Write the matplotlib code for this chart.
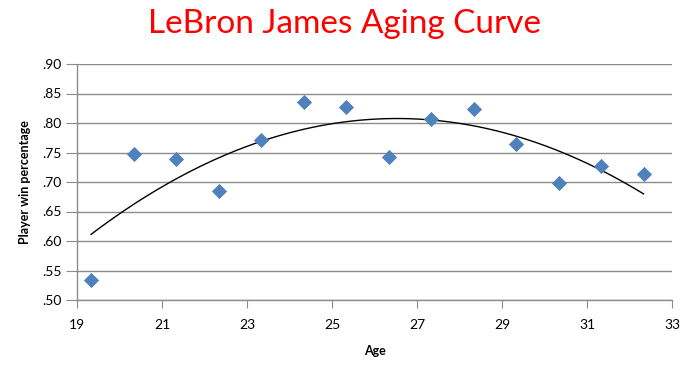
import numpy as np
import matplotlib
matplotlib.use("Agg")
import matplotlib.pyplot as plt

ages = [19.33, 20.33, 21.33, 22.33, 23.33, 24.33, 25.33, 26.33, 27.33, 28.33, 29.33, 30.33, 31.33, 32.33]
win_pct = [0.534, 0.747, 0.739, 0.685, 0.772, 0.836, 0.827, 0.743, 0.807, 0.824, 0.764, 0.699, 0.727, 0.714]
x_ticks = [19, 21, 23, 25, 27, 29, 31, 33]
y_ticks = [0.50, 0.55, 0.60, 0.65, 0.70, 0.75, 0.80, 0.85, 0.90]
y_labels = [".50", ".55", ".60", ".65", ".70", ".75", ".80", ".85", ".90"]

plt.rcParams['font.family'] = ['Lato', 'DejaVu Sans']

fig = plt.figure(figsize=(6.88, 3.68), dpi=100)
ax = fig.add_axes([77/688, 1 - 300/368, (672-77)/688, (300-64)/368])

# quadratic trendline
coef = np.polyfit(ages, win_pct, 2)
xs = np.linspace(min(ages), max(ages), 200)
ax.plot(xs, np.polyval(coef, xs), color='black', lw=1.0, zorder=3)

ax.scatter(ages, win_pct, marker='D', s=60, color='#4F81BD', zorder=4, linewidths=0)

ax.set_xlim(19, 33)
ax.set_ylim(0.50, 0.90)
ax.set_xticks(x_ticks)
ax.set_yticks(y_ticks)
ax.set_yticklabels(y_labels)
ax.grid(axis='y', color='#8c8c8c', lw=1.0)
ax.set_axisbelow(True)
for s in ['top', 'right']:
    ax.spines[s].set_visible(False)
for s in ['left', 'bottom']:
    ax.spines[s].set_color('#8c8c8c')
    ax.spines[s].set_linewidth(1.0)
ax.tick_params(axis='x', direction='out', length=6, color='#8c8c8c', labelsize=10, pad=8)
ax.tick_params(axis='y', direction='out', length=8, color='#8c8c8c', labelsize=10, pad=3)

ax.set_xlabel("Age", fontsize=9, fontweight='bold', labelpad=10)
ax.set_ylabel("Player win percentage", fontsize=9, fontweight='bold', labelpad=8)

fig.text(0.5, 1 - 24/368, "LeBron James Aging Curve", color='#FF0000', fontsize=24,
         ha='center', va='center')

fig.savefig("out.png", dpi=100, facecolor='white')
